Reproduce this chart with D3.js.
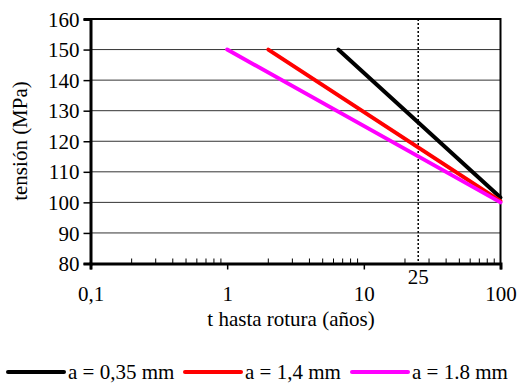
<!DOCTYPE html>
<html><head><meta charset="utf-8">
<script src="https://cdn.jsdelivr.net/npm/d3@7"></script>
<style>body{margin:0;background:#fff}svg{display:block}</style>
</head><body>
<script>
const seriesNames = ["a = 0,35 mm", "a = 1,4 mm", "a = 1.8 mm"];
const seriesColors = ["#000000", "#ff0000", "#ff00ff"];
const tBlack = [6.5, 100], sBlack = [150, 101.6];
const tRed = [2, 100], sRed = [150, 100.4];
const tMag = [1, 100], sMag = [150, 100];
const xTicks = [0.1, 1, 10, 100];
const xTickLabels = ["0,1", "1", "10", "100"];
const yTicks = [80, 90, 100, 110, 120, 130, 140, 150, 160];
const refT = 25;

const FONT = "'Liberation Serif', 'Times New Roman', 'DejaVu Serif', serif";
const W = 517, H = 385;
const svg = d3.select("body").append("svg").attr("width", W).attr("height", H);
const x = d3.scaleLog().domain([0.1, 100]).range([90.5, 500.5]);
const y = d3.scaleLinear().domain([80, 160]).range([263.5, 19]);
const FS = 21;

svg.append("g").selectAll("line").data(yTicks.filter(v => v > 80 && v < 160)).join("line")
  .attr("x1", x(0.1)).attr("x2", x(100)).attr("y1", d => y(d)).attr("y2", d => y(d))
  .attr("stroke", "#333").attr("stroke-width", 1);

svg.append("path").attr("d", `M${x(0.1)},${y(160)}H${x(100)}V${y(80)}`)
  .attr("fill", "none").attr("stroke", "#000").attr("stroke-width", 2);

svg.append("line").attr("x1", x(refT)).attr("x2", x(refT)).attr("y1", y(160)).attr("y2", y(80))
  .attr("stroke", "#000").attr("stroke-width", 1.5).attr("stroke-dasharray", "2,2");

const series = [[tBlack, sBlack], [tRed, sRed], [tMag, sMag]];
const line = d3.line().x(d => x(d[0])).y(d => y(d[1]));
series.forEach((s, i) => {
  const pts = s[0].map((t, j) => [t, s[1][j]]);
  svg.append("path").attr("d", line(pts)).attr("fill", "none")
    .attr("stroke", seriesColors[i]).attr("stroke-width", 4).attr("stroke-linecap", "round");
});

const yAxis = d3.axisLeft(y).tickValues(yTicks).tickSize(7).tickPadding(4).tickFormat(d3.format("d"));
const gy = svg.append("g").attr("transform", `translate(${x(0.1)},0)`).call(yAxis);
gy.select(".domain").attr("stroke-width", 3);
gy.selectAll(".tick line").attr("stroke-width", 1.5);
gy.selectAll("text").attr("dy", "0.34em");

const xAxis = d3.axisBottom(x).tickValues(xTicks).tickSize(6).tickPadding(17)
  .tickFormat((d, i) => xTickLabels[i]);
const gx = svg.append("g").attr("transform", `translate(0,${y(80)})`).call(xAxis);
gx.select(".domain").attr("stroke-width", 3);
gx.selectAll(".tick line").attr("stroke-width", 1.5);

const minor = [];
[0.1, 1, 10].forEach(dec => { for (let k = 2; k <= 9; k++) minor.push(dec * k); });
svg.append("g").selectAll("line").data(minor).join("line")
  .attr("x1", d => x(d)).attr("x2", d => x(d)).attr("y1", y(80)).attr("y2", y(80) - 5)
  .attr("stroke", "#000").attr("stroke-width", 1);

svg.append("text").attr("x", x(refT)).attr("y", 284).attr("text-anchor", "middle").text("25");

svg.append("text").attr("x", 291).attr("y", 326).attr("text-anchor", "middle").text("t hasta rotura (años)");
svg.append("text").attr("transform", "translate(27,141) rotate(-90)").attr("text-anchor", "middle").text("tensión (MPa)");

const legX = [8, 185, 352];
seriesNames.forEach((n, i) => {
  svg.append("line").attr("x1", legX[i]).attr("x2", legX[i] + 56).attr("y1", 372).attr("y2", 372)
    .attr("stroke", seriesColors[i]).attr("stroke-width", 4).attr("stroke-linecap", "round");
  svg.append("text").attr("x", legX[i] + 60).attr("y", 379).text(n);
});

svg.selectAll("text").style("font-family", FONT).style("font-size", FS + "px").attr("fill", "#000");
</script>
</body></html>
